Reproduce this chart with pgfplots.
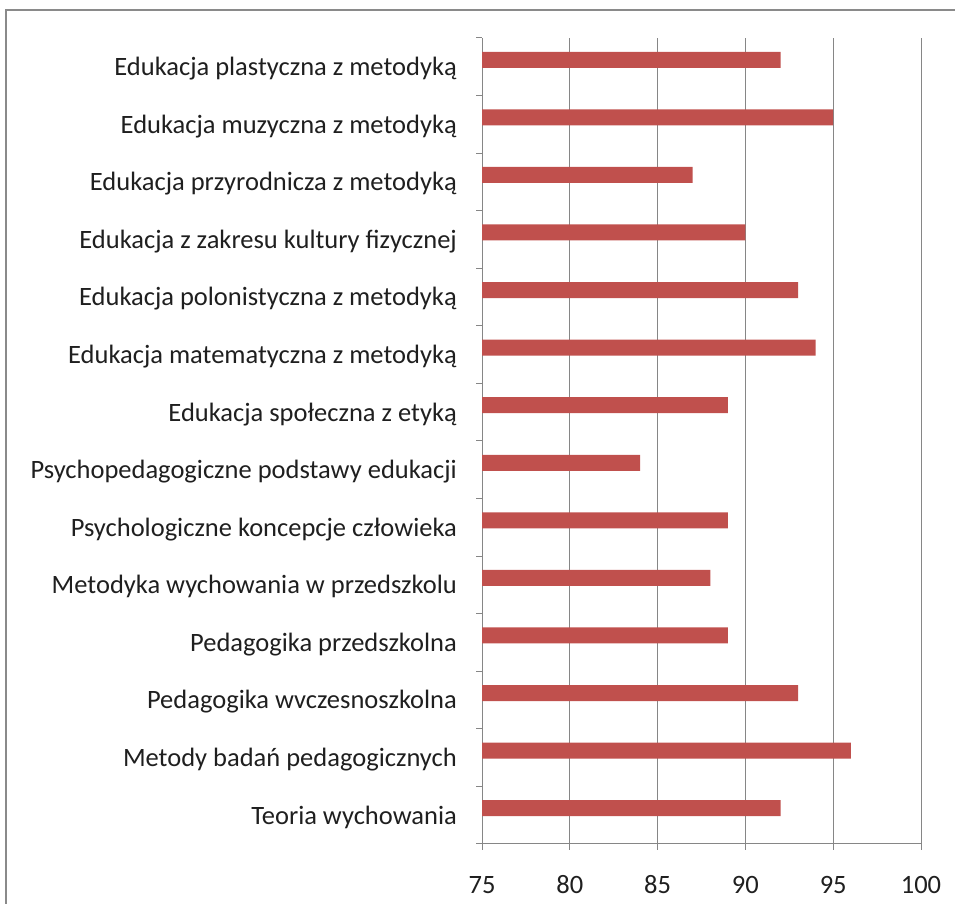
\documentclass[border=0pt]{standalone}
\usepackage{fontspec}
\setmainfont{Carlito}
\usepackage{pgfplots}
\pgfplotsset{compat=1.18}
\definecolor{barred}{HTML}{C0504D}
\definecolor{gridgray}{HTML}{868686}
\definecolor{framegray}{HTML}{8A8A8A}
\begin{document}
\begin{tikzpicture}[x=1pt,y=1pt]
\useasboundingbox (0,0) rectangle (955,904);
\begin{scope}
\clip (0,0) rectangle (955,904);
\draw[framegray, line width=2.5pt] (6,-20) rectangle (980,894);
\end{scope}
\begin{axis}[
  at={(482pt,60pt)}, anchor=south west,
  scale only axis, width=439pt, height=806pt,
  xmin=75, xmax=100, ymin=-0.5, ymax=13.5,
  xtick={75,80,...,100},
  ytick={0,...,13},
  yticklabels={Teoria wychowania,
    Metody badań pedagogicznych,
    Pedagogika wvczesnoszkolna,
    Pedagogika przedszkolna,
    Metodyka wychowania w przedszkolu,
    Psychologiczne koncepcje człowieka,
    Psychopedagogiczne podstawy edukacji,
    Edukacja społeczna z etyką,
    Edukacja matematyczna z metodyką,
    Edukacja polonistyczna z metodyką,
    Edukacja z zakresu kultury fizycznej,
    Edukacja przyrodnicza z metodyką,
    Edukacja muzyczna z metodyką,
    Edukacja plastyczna z metodyką},
  minor ytick={-0.5,0.5,...,13.5},
  axis lines*=left,
  axis line style={gridgray, line width=1pt},
  xmajorgrids, major grid style={gridgray, line width=1pt},
  major x tick style={gridgray, line width=1pt},
  minor y tick style={gridgray, line width=1pt},
  major y tick style={draw=none},
  tick align=outside,
  major tick length=6pt, minor tick length=6pt,
  /pgf/number format/assume math mode=true,
  tick label style={font=\fontsize{26.5}{31}\selectfont, text=black!88},
  xticklabel style={anchor=base, yshift=-44pt, inner sep=0pt},
  yticklabel style={anchor=east, xshift=-19pt, yshift=-2pt, inner sep=0pt},
  clip=true,
]
\addplot[xbar, bar width=16pt, bar shift=7pt, fill=barred, draw=none]
  coordinates {
  (92,0) (96,1) (93,2) (89,3) (88,4) (89,5) (84,6)
  (89,7) (94,8) (93,9) (90,10) (87,11) (95,12) (92,13)
  };
\end{axis}
\end{tikzpicture}
\end{document}
